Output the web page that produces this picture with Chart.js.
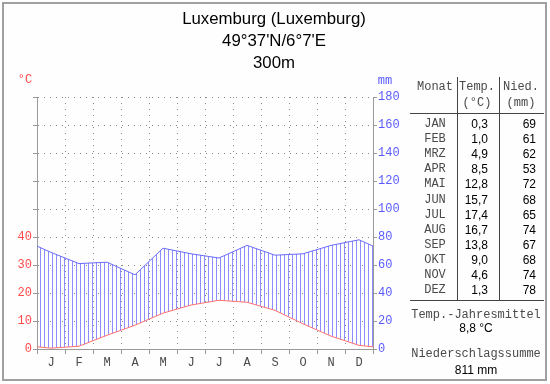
<!DOCTYPE html>
<html><head><meta charset="utf-8">
<script src="https://cdn.jsdelivr.net/npm/chart.js@4.4.1/dist/chart.umd.min.js"></script>
<style>
html,body{margin:0;padding:0;background:#fff;}
#wrap{position:relative;width:550px;height:384px;overflow:hidden;background:#fff;}
#frame{position:absolute;left:2px;top:2px;width:541px;height:375px;border:2px solid #a0a0a0;background:#fdfefd;}
canvas{position:absolute;left:0;top:0;}
.t{position:absolute;white-space:nowrap;line-height:1;}
.ttl{font-family:"Liberation Sans",Arial,sans-serif;font-size:16.8px;color:#000;}
.mono{font-family:"Liberation Mono","Courier New",monospace;font-size:12px;color:#4a4a4a;}
.num{font-family:"Liberation Sans",Arial,sans-serif;font-size:12px;color:#000;}
.ln{position:absolute;background:#444;}
</style>
</head><body>
<div id="wrap">
<div id="frame"></div>
<canvas id="c" width="550" height="384"></canvas>
</div>
<script>
// ---- data ----
const monthLetters = ['J','F','M','A','M','J','J','A','S','O','N','D'];
const monthNames = ['JAN','FEB','MRZ','APR','MAI','JUN','JUL','AUG','SEP','OKT','NOV','DEZ'];
const temperature = [0.3,1.0,4.9,8.5,12.8,15.7,17.4,16.7,13.8,9.0,4.6,1.3];
const precipitation = [69,61,62,53,72,68,65,74,67,68,74,78];
const tempTickLabels = [0,10,20,30,40];
const precipTickLabels = [0,20,40,60,80,100,120,140,160,180];
const titleLines = ['Luxemburg (Luxemburg)', "49°37'N/6°7'E", '300m'];
const annualMeanTemp = '8,8 °C';
const annualPrecip = '811 mm';

// ---- helpers ----
const wrap = document.getElementById('wrap');
function put(text, x, y, cls, align, color) {
  const d = document.createElement('div');
  d.className = 't ' + cls;
  d.textContent = text;
  d.style.left = x + 'px';
  d.style.top = y + 'px';
  const tx = align === 'right' ? '-100%' : align === 'left' ? '0' : '-50%';
  d.style.transform = 'translate(' + tx + ',-50%)';
  if (color) d.style.color = color;
  wrap.appendChild(d);
}
function line(x, y, w, h) {
  const d = document.createElement('div');
  d.className = 'ln';
  d.style.left = x + 'px'; d.style.top = y + 'px';
  d.style.width = w + 'px'; d.style.height = h + 'px';
  wrap.appendChild(d);
}

// title
titleLines.forEach((s, i) => put(s, 274, 19 + i * 22, 'ttl', 'center'));
// axis units
put('°C', 25, 80, 'mono', 'center', '#ff4a4a');
put('mm', 385, 81, 'mono', 'center', '#5a5aff');

// table
put('Monat', 435, 87, 'mono', 'center');
put('Temp.', 477, 87, 'mono', 'center');
put('(°C)', 477, 103, 'mono', 'center');
put('Nied.', 521, 87, 'mono', 'center');
put('(mm)', 521, 103, 'mono', 'center');
line(410, 113, 134, 1);
line(410, 300, 134, 1);
line(457, 77, 1, 223);
line(499, 77, 1, 223);
monthNames.forEach((m, i) => {
  const y = 124 + i * 15.1;
  put(m, 435, y, 'mono', 'center');
  put(temperature[i].toFixed(1).replace('.', ','), 488, y, 'num', 'right');
  put(String(precipitation[i]), 536, y, 'num', 'right');
});
put('Temp.-Jahresmittel', 476, 315, 'mono', 'center');
put(annualMeanTemp, 476, 328, 'num', 'center');
put('Niederschlagssumme', 476, 354, 'mono', 'center');
put(annualPrecip, 476, 370, 'num', 'center');

// ---- chart ----
const canvas = document.getElementById('c');
const ctx = canvas.getContext('2d');
const pc = document.createElement('canvas');
pc.width = 4; pc.height = 1;
const pctx = pc.getContext('2d');
pctx.fillStyle = '#8c8cff';
pctx.fillRect(0, 0, 1, 1);
const hatch = ctx.createPattern(pc, 'repeat');

// wrap-around neighbours (Dec before Jan, Jan after Dec) so the curves run to the plot edges
const tempPoints = [{x: -0.5, y: temperature[11]}]
  .concat(temperature.map((v, i) => ({x: i + 0.5, y: v})))
  .concat([{x: 12.5, y: temperature[0]}]);
const precipPoints = [{x: -0.5, y: precipitation[11]}]
  .concat(precipitation.map((v, i) => ({x: i + 0.5, y: v})))
  .concat([{x: 12.5, y: precipitation[0]}]);

const gridGray = '#8a8a8a';
const axisGray = '#9a9a9a';
const monoFont = {family: '"Liberation Mono","Courier New",monospace', size: 12};

new Chart(ctx, {
  type: 'line',
  data: {
    datasets: [
      {label: 'Temp', data: tempPoints, xAxisID: 'x', yAxisID: 'yT',
       borderColor: '#ff7070', borderWidth: 1, pointRadius: 0, fill: false, tension: 0},
      {label: 'Nied', data: precipPoints, xAxisID: 'x', yAxisID: 'yP',
       borderColor: '#6a6aff', borderWidth: 1, pointRadius: 0, tension: 0,
       fill: {target: 0}, backgroundColor: hatch}
    ]
  },
  options: {
    responsive: false,
    animation: false,
    devicePixelRatio: 1,
    layout: {padding: {left: 0, right: 147, top: 97, bottom: 10}},
    plugins: {legend: {display: false}, tooltip: {enabled: false}, title: {display: false}},
    scales: {
      x: {
        type: 'linear', position: 'bottom', min: 0, max: 12,
        afterBuildTicks: s => { const t = []; for (let i = 0; i <= 24; i++) t.push({value: i / 2}); s.ticks = t; },
        afterFit: s => { s.height = 25; },
        ticks: {autoSkip: false, maxRotation: 0, minRotation: 0, padding: 2, color: '#4a4a4a', font: monoFont,
          callback: v => (Math.abs(v % 1 - 0.5) < 1e-6) ? monthLetters[Math.floor(v)] : ''},
        grid: {
          color: c => (c.tick && Number.isInteger(c.tick.value)) ? gridGray : 'rgba(0,0,0,0)',
          tickColor: c => (c.tick && Number.isInteger(c.tick.value)) ? axisGray : 'rgba(0,0,0,0)',
          tickLength: 5, lineWidth: 1
        },
        border: {display: true, color: axisGray, width: 1, dash: [1, 5]}
      },
      yT: {
        type: 'linear', position: 'left', min: 0, max: 90,
        afterFit: s => { s.width = 37; },
        ticks: {stepSize: 10, padding: 1, color: '#ff4a4a', font: monoFont,
          callback: v => tempTickLabels.includes(v) ? String(v) : ''},
        grid: {color: gridGray, tickColor: axisGray, tickLength: 4, lineWidth: 1},
        border: {display: true, color: axisGray, width: 1, dash: [1, 5]}
      },
      yP: {
        type: 'linear', position: 'right', min: 0, max: 180,
        afterFit: s => { s.width = 30; },
        ticks: {stepSize: 20, padding: 1, color: '#5a5aff', font: monoFont,
          callback: v => precipTickLabels.includes(v) ? String(v) : ''},
        grid: {drawOnChartArea: false, tickColor: axisGray, tickLength: 4},
        border: {display: true, color: axisGray, width: 1}
      }
    }
  }
});
</script>
</body></html>
